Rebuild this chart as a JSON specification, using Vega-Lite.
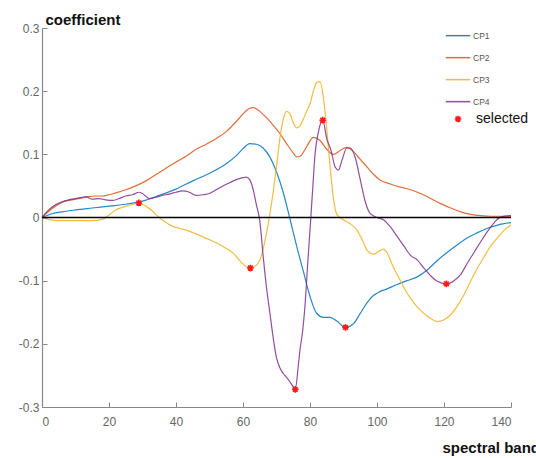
{
  "$schema": "https://vega.github.io/schema/vega-lite/v6.json",
  "width": 469,
  "height": 379,
  "autosize": "none",
  "padding": {"left": 42, "top": 28, "right": 25, "bottom": 51},
  "background": "white",
  "config": {
    "view": {"stroke": null},
    "font": "Liberation Sans",
    "axis": {"grid": false}
  },
  "datasets": {
    "curves": [
      {"band":0,"coef":0,"series":"CP1"},{"band":3,"coef":0.006,"series":"CP1"},{"band":6,"coef":0.009,"series":"CP1"},{"band":10,"coef":0.012,"series":"CP1"},{"band":15,"coef":0.015,"series":"CP1"},{"band":20,"coef":0.018,"series":"CP1"},{"band":25,"coef":0.021,"series":"CP1"},{"band":30,"coef":0.026,"series":"CP1"},{"band":35,"coef":0.035,"series":"CP1"},{"band":40,"coef":0.045,"series":"CP1"},{"band":45,"coef":0.058,"series":"CP1"},{"band":50,"coef":0.07,"series":"CP1"},{"band":55,"coef":0.085,"series":"CP1"},{"band":58,"coef":0.098,"series":"CP1"},{"band":60,"coef":0.109,"series":"CP1"},{"band":62,"coef":0.117,"series":"CP1"},{"band":64,"coef":0.116,"series":"CP1"},{"band":66,"coef":0.11,"series":"CP1"},{"band":68,"coef":0.096,"series":"CP1"},{"band":70,"coef":0.072,"series":"CP1"},{"band":72,"coef":0.04,"series":"CP1"},{"band":74,"coef":-0.002,"series":"CP1"},{"band":76,"coef":-0.045,"series":"CP1"},{"band":78,"coef":-0.085,"series":"CP1"},{"band":80,"coef":-0.125,"series":"CP1"},{"band":82,"coef":-0.152,"series":"CP1"},{"band":84,"coef":-0.158,"series":"CP1"},{"band":86,"coef":-0.158,"series":"CP1"},{"band":88,"coef":-0.164,"series":"CP1"},{"band":90.6,"coef":-0.174,"series":"CP1"},{"band":93,"coef":-0.168,"series":"CP1"},{"band":95,"coef":-0.152,"series":"CP1"},{"band":97,"coef":-0.135,"series":"CP1"},{"band":99,"coef":-0.123,"series":"CP1"},{"band":101,"coef":-0.117,"series":"CP1"},{"band":103,"coef":-0.113,"series":"CP1"},{"band":106,"coef":-0.106,"series":"CP1"},{"band":109,"coef":-0.1,"series":"CP1"},{"band":112,"coef":-0.094,"series":"CP1"},{"band":115,"coef":-0.083,"series":"CP1"},{"band":118,"coef":-0.068,"series":"CP1"},{"band":121,"coef":-0.055,"series":"CP1"},{"band":124,"coef":-0.043,"series":"CP1"},{"band":127,"coef":-0.032,"series":"CP1"},{"band":130,"coef":-0.024,"series":"CP1"},{"band":133,"coef":-0.017,"series":"CP1"},{"band":136,"coef":-0.012,"series":"CP1"},{"band":140,"coef":-0.008,"series":"CP1"},

      {"band":0,"coef":0,"series":"CP2"},{"band":2,"coef":0.01,"series":"CP2"},{"band":4,"coef":0.018,"series":"CP2"},{"band":6,"coef":0.024,"series":"CP2"},{"band":8,"coef":0.027,"series":"CP2"},{"band":10,"coef":0.029,"series":"CP2"},{"band":12,"coef":0.031,"series":"CP2"},{"band":14,"coef":0.033,"series":"CP2"},{"band":16,"coef":0.034,"series":"CP2"},{"band":18,"coef":0.034,"series":"CP2"},{"band":20,"coef":0.036,"series":"CP2"},{"band":22,"coef":0.039,"series":"CP2"},{"band":25,"coef":0.044,"series":"CP2"},{"band":28,"coef":0.05,"series":"CP2"},{"band":31,"coef":0.058,"series":"CP2"},{"band":34,"coef":0.068,"series":"CP2"},{"band":37,"coef":0.078,"series":"CP2"},{"band":40,"coef":0.088,"series":"CP2"},{"band":43,"coef":0.097,"series":"CP2"},{"band":46,"coef":0.108,"series":"CP2"},{"band":49,"coef":0.116,"series":"CP2"},{"band":52,"coef":0.125,"series":"CP2"},{"band":55,"coef":0.136,"series":"CP2"},{"band":58,"coef":0.152,"series":"CP2"},{"band":60,"coef":0.164,"series":"CP2"},{"band":62,"coef":0.173,"series":"CP2"},{"band":63,"coef":0.174,"series":"CP2"},{"band":65,"coef":0.168,"series":"CP2"},{"band":67,"coef":0.158,"series":"CP2"},{"band":69,"coef":0.146,"series":"CP2"},{"band":71,"coef":0.133,"series":"CP2"},{"band":73,"coef":0.117,"series":"CP2"},{"band":75,"coef":0.102,"series":"CP2"},{"band":76,"coef":0.096,"series":"CP2"},{"band":77,"coef":0.097,"series":"CP2"},{"band":79,"coef":0.112,"series":"CP2"},{"band":81,"coef":0.127,"series":"CP2"},{"band":83,"coef":0.122,"series":"CP2"},{"band":85,"coef":0.108,"series":"CP2"},{"band":87,"coef":0.1,"series":"CP2"},{"band":89,"coef":0.106,"series":"CP2"},{"band":91,"coef":0.111,"series":"CP2"},{"band":93,"coef":0.104,"series":"CP2"},{"band":95,"coef":0.092,"series":"CP2"},{"band":97,"coef":0.08,"series":"CP2"},{"band":99,"coef":0.068,"series":"CP2"},{"band":101,"coef":0.059,"series":"CP2"},{"band":104,"coef":0.053,"series":"CP2"},{"band":107,"coef":0.048,"series":"CP2"},{"band":110,"coef":0.044,"series":"CP2"},{"band":113,"coef":0.038,"series":"CP2"},{"band":116,"coef":0.03,"series":"CP2"},{"band":119,"coef":0.022,"series":"CP2"},{"band":122,"coef":0.015,"series":"CP2"},{"band":125,"coef":0.009,"series":"CP2"},{"band":128,"coef":0.005,"series":"CP2"},{"band":131,"coef":0.003,"series":"CP2"},{"band":134,"coef":0.002,"series":"CP2"},{"band":137,"coef":0.002,"series":"CP2"},{"band":140,"coef":0.002,"series":"CP2"},

      {"band":0,"coef":0,"series":"CP3"},{"band":2,"coef":-0.003,"series":"CP3"},{"band":5,"coef":-0.005,"series":"CP3"},{"band":10,"coef":-0.005,"series":"CP3"},{"band":15,"coef":-0.005,"series":"CP3"},{"band":18,"coef":-0.003,"series":"CP3"},{"band":20,"coef":0.004,"series":"CP3"},{"band":22,"coef":0.012,"series":"CP3"},{"band":24,"coef":0.016,"series":"CP3"},{"band":26,"coef":0.019,"series":"CP3"},{"band":28.9,"coef":0.023,"series":"CP3"},{"band":31,"coef":0.018,"series":"CP3"},{"band":33,"coef":0.01,"series":"CP3"},{"band":35,"coef":0.0,"series":"CP3"},{"band":37,"coef":-0.008,"series":"CP3"},{"band":39,"coef":-0.014,"series":"CP3"},{"band":41,"coef":-0.017,"series":"CP3"},{"band":43,"coef":-0.02,"series":"CP3"},{"band":46,"coef":-0.026,"series":"CP3"},{"band":49,"coef":-0.033,"series":"CP3"},{"band":52,"coef":-0.04,"series":"CP3"},{"band":55,"coef":-0.049,"series":"CP3"},{"band":57,"coef":-0.056,"series":"CP3"},{"band":59,"coef":-0.068,"series":"CP3"},{"band":61,"coef":-0.078,"series":"CP3"},{"band":62.2,"coef":-0.08,"series":"CP3"},{"band":63,"coef":-0.079,"series":"CP3"},{"band":65,"coef":-0.068,"series":"CP3"},{"band":66,"coef":-0.05,"series":"CP3"},{"band":67,"coef":-0.025,"series":"CP3"},{"band":68,"coef":0.005,"series":"CP3"},{"band":69,"coef":0.04,"series":"CP3"},{"band":70,"coef":0.08,"series":"CP3"},{"band":71,"coef":0.125,"series":"CP3"},{"band":72,"coef":0.155,"series":"CP3"},{"band":73,"coef":0.168,"series":"CP3"},{"band":74,"coef":0.164,"series":"CP3"},{"band":75,"coef":0.15,"series":"CP3"},{"band":76,"coef":0.142,"series":"CP3"},{"band":77,"coef":0.145,"series":"CP3"},{"band":78,"coef":0.156,"series":"CP3"},{"band":79,"coef":0.168,"series":"CP3"},{"band":80,"coef":0.18,"series":"CP3"},{"band":81,"coef":0.2,"series":"CP3"},{"band":82,"coef":0.214,"series":"CP3"},{"band":83,"coef":0.215,"series":"CP3"},{"band":84,"coef":0.19,"series":"CP3"},{"band":85,"coef":0.14,"series":"CP3"},{"band":86,"coef":0.08,"series":"CP3"},{"band":87,"coef":0.03,"series":"CP3"},{"band":88,"coef":0.005,"series":"CP3"},{"band":90,"coef":-0.004,"series":"CP3"},{"band":92,"coef":-0.01,"series":"CP3"},{"band":94,"coef":-0.02,"series":"CP3"},{"band":96,"coef":-0.04,"series":"CP3"},{"band":97,"coef":-0.052,"series":"CP3"},{"band":99,"coef":-0.058,"series":"CP3"},{"band":101,"coef":-0.052,"series":"CP3"},{"band":102,"coef":-0.05,"series":"CP3"},{"band":103,"coef":-0.056,"series":"CP3"},{"band":105,"coef":-0.08,"series":"CP3"},{"band":107,"coef":-0.1,"series":"CP3"},{"band":109,"coef":-0.12,"series":"CP3"},{"band":111,"coef":-0.135,"series":"CP3"},{"band":113,"coef":-0.147,"series":"CP3"},{"band":115,"coef":-0.156,"series":"CP3"},{"band":117,"coef":-0.163,"series":"CP3"},{"band":118,"coef":-0.165,"series":"CP3"},{"band":120,"coef":-0.162,"series":"CP3"},{"band":122,"coef":-0.154,"series":"CP3"},{"band":124,"coef":-0.14,"series":"CP3"},{"band":126,"coef":-0.122,"series":"CP3"},{"band":128,"coef":-0.1,"series":"CP3"},{"band":130,"coef":-0.08,"series":"CP3"},{"band":132,"coef":-0.062,"series":"CP3"},{"band":134,"coef":-0.045,"series":"CP3"},{"band":136,"coef":-0.032,"series":"CP3"},{"band":138,"coef":-0.02,"series":"CP3"},{"band":140,"coef":-0.012,"series":"CP3"},

      {"band":0,"coef":0,"series":"CP4"},{"band":2,"coef":0.012,"series":"CP4"},{"band":4,"coef":0.02,"series":"CP4"},{"band":6,"coef":0.025,"series":"CP4"},{"band":8,"coef":0.028,"series":"CP4"},{"band":10,"coef":0.03,"series":"CP4"},{"band":12,"coef":0.032,"series":"CP4"},{"band":13,"coef":0.033,"series":"CP4"},{"band":15,"coef":0.029,"series":"CP4"},{"band":17,"coef":0.03,"series":"CP4"},{"band":19,"coef":0.028,"series":"CP4"},{"band":21,"coef":0.027,"series":"CP4"},{"band":23,"coef":0.03,"series":"CP4"},{"band":25,"coef":0.034,"series":"CP4"},{"band":27,"coef":0.036,"series":"CP4"},{"band":29,"coef":0.04,"series":"CP4"},{"band":30,"coef":0.038,"series":"CP4"},{"band":32,"coef":0.03,"series":"CP4"},{"band":34,"coef":0.032,"series":"CP4"},{"band":36,"coef":0.035,"series":"CP4"},{"band":38,"coef":0.037,"series":"CP4"},{"band":40,"coef":0.04,"series":"CP4"},{"band":42,"coef":0.042,"series":"CP4"},{"band":44,"coef":0.04,"series":"CP4"},{"band":46,"coef":0.035,"series":"CP4"},{"band":48,"coef":0.036,"series":"CP4"},{"band":50,"coef":0.038,"series":"CP4"},{"band":52,"coef":0.044,"series":"CP4"},{"band":54,"coef":0.05,"series":"CP4"},{"band":56,"coef":0.055,"series":"CP4"},{"band":58,"coef":0.06,"series":"CP4"},{"band":60,"coef":0.063,"series":"CP4"},{"band":61,"coef":0.064,"series":"CP4"},{"band":62,"coef":0.06,"series":"CP4"},{"band":63,"coef":0.045,"series":"CP4"},{"band":64,"coef":0.02,"series":"CP4"},{"band":65,"coef":-0.005,"series":"CP4"},{"band":66,"coef":-0.06,"series":"CP4"},{"band":67,"coef":-0.11,"series":"CP4"},{"band":68,"coef":-0.15,"series":"CP4"},{"band":69,"coef":-0.19,"series":"CP4"},{"band":70,"coef":-0.222,"series":"CP4"},{"band":71,"coef":-0.238,"series":"CP4"},{"band":72,"coef":-0.247,"series":"CP4"},{"band":73,"coef":-0.253,"series":"CP4"},{"band":74,"coef":-0.26,"series":"CP4"},{"band":75,"coef":-0.268,"series":"CP4"},{"band":75.6,"coef":-0.272,"series":"CP4"},{"band":76.5,"coef":-0.235,"series":"CP4"},{"band":77,"coef":-0.21,"series":"CP4"},{"band":77.8,"coef":-0.18,"series":"CP4"},{"band":78.5,"coef":-0.14,"series":"CP4"},{"band":79.3,"coef":-0.074,"series":"CP4"},{"band":80,"coef":-0.02,"series":"CP4"},{"band":80.8,"coef":0.045,"series":"CP4"},{"band":81.5,"coef":0.1,"series":"CP4"},{"band":82.5,"coef":0.135,"series":"CP4"},{"band":83.8,"coef":0.154,"series":"CP4"},{"band":85,"coef":0.125,"series":"CP4"},{"band":86.3,"coef":0.106,"series":"CP4"},{"band":87.5,"coef":0.08,"series":"CP4"},{"band":88.5,"coef":0.075,"series":"CP4"},{"band":89.5,"coef":0.09,"series":"CP4"},{"band":91,"coef":0.11,"series":"CP4"},{"band":92,"coef":0.11,"series":"CP4"},{"band":93.5,"coef":0.095,"series":"CP4"},{"band":95,"coef":0.06,"series":"CP4"},{"band":96.5,"coef":0.025,"series":"CP4"},{"band":98,"coef":0.006,"series":"CP4"},{"band":100,"coef":0.0,"series":"CP4"},{"band":102,"coef":-0.004,"series":"CP4"},{"band":104,"coef":-0.015,"series":"CP4"},{"band":106,"coef":-0.03,"series":"CP4"},{"band":108,"coef":-0.045,"series":"CP4"},{"band":110,"coef":-0.06,"series":"CP4"},{"band":112,"coef":-0.067,"series":"CP4"},{"band":114,"coef":-0.08,"series":"CP4"},{"band":116,"coef":-0.092,"series":"CP4"},{"band":118,"coef":-0.101,"series":"CP4"},{"band":120.7,"coef":-0.105,"series":"CP4"},{"band":123,"coef":-0.1,"series":"CP4"},{"band":125,"coef":-0.09,"series":"CP4"},{"band":127,"coef":-0.072,"series":"CP4"},{"band":129,"coef":-0.055,"series":"CP4"},{"band":131,"coef":-0.038,"series":"CP4"},{"band":133,"coef":-0.022,"series":"CP4"},{"band":135,"coef":-0.008,"series":"CP4"},{"band":137,"coef":0.001,"series":"CP4"},{"band":140,"coef":0.003,"series":"CP4"}
    ],
    "selected": [
      {"band":28.9,"coef":0.023,"label":"selected"},
      {"band":62.2,"coef":-0.08,"label":"selected"},
      {"band":75.6,"coef":-0.272,"label":"selected"},
      {"band":83.8,"coef":0.154,"label":"selected"},
      {"band":90.6,"coef":-0.174,"label":"selected"},
      {"band":120.7,"coef":-0.105,"label":"selected"}
    ],
    "zero": [{"coef": 0}]
  },
  "layer": [
    {
      "data": {"name": "curves"},
      "mark": {"type": "line", "strokeWidth": 1.2, "interpolate": "monotone", "opacity": 0.85},
      "encoding": {
        "x": {
          "field": "band", "type": "quantitative",
          "scale": {"domain": [0, 140], "nice": false, "zero": false},
          "axis": {
            "values": [0, 20, 40, 60, 80, 100, 120, 140],
            "title": "spectral band",
            "titleFont": "Liberation Sans", "titleFontSize": 15, "titleFontWeight": "bold", "titleColor": "#111",
            "titleAnchor": "start", "titleAlign": "left", "titleBaseline": "alphabetic",
            "titleX": 400, "titleY": 45,
            "tickSize": -5, "tickColor": "#888", "domainColor": "#888", "domainWidth": 1.2,
            "labelFontSize": 12, "labelColor": "#666", "labelPadding": 14
          }
        },
        "y": {
          "field": "coef", "type": "quantitative",
          "scale": {"domain": [-0.3, 0.3], "nice": false, "zero": false},
          "axis": {
            "values": [-0.3, -0.2, -0.1, 0, 0.1, 0.2, 0.3],
            "labelExpr": "datum.value == 0 ? '0' : replace(format(datum.value, '.1f'), '\u2212', '-')",
            "title": "coefficient",
            "titleFont": "Liberation Sans", "titleFontSize": 15, "titleFontWeight": "bold", "titleColor": "#111",
            "titleAngle": 0, "titleAlign": "left", "titleBaseline": "alphabetic",
            "titleX": 3, "titleY": -4,
            "tickSize": -5, "tickColor": "#888", "domainColor": "#888", "domainWidth": 1.2,
            "labelFontSize": 12, "labelColor": "#666", "labelPadding": 8
          }
        },
        "color": {
          "field": "series", "type": "nominal",
          "scale": {"domain": ["CP1", "CP2", "CP3", "CP4"], "range": ["#0072BD", "#D95319", "#EDB120", "#7E2F8E"]},
          "legend": {
            "title": null, "orient": "none", "legendX": 403, "legendY": -3,
            "symbolType": "stroke", "symbolSize": 600, "symbolStrokeWidth": 1.5,
            "clipHeight": 21.3, "rowPadding": 0, "padding": 0,
            "labelFontSize": 8.5, "labelColor": "#555", "labelOffset": 2
          }
        }
      }
    },
    {
      "data": {"name": "zero"},
      "mark": {"type": "rule", "color": "black", "strokeWidth": 1.5},
      "encoding": {"y": {"field": "coef", "type": "quantitative"}}
    },
    {
      "data": {"name": "selected"},
      "mark": {"type": "point", "filled": false, "color": "#ff1a1a", "strokeWidth": 1.6, "size": 45, "opacity": 1},
      "encoding": {
        "x": {"field": "band", "type": "quantitative"},
        "y": {"field": "coef", "type": "quantitative"},
        "shape": {
          "field": "label", "type": "nominal",
          "scale": {"range": ["M0,-1L0,1M-1,0L1,0M-0.7,-0.7L0.7,0.7M-0.7,0.7L0.7,-0.7"]},
          "legend": {
            "title": null, "orient": "none", "legendX": 409, "legendY": 84,
            "symbolType": "M0,-1L0,1M-1,0L1,0M-0.7,-0.7L0.7,0.7M-0.7,0.7L0.7,-0.7",
            "symbolSize": 45, "symbolStrokeColor": "#ff1a1a", "symbolStrokeWidth": 1.6, "symbolFillColor": "transparent",
            "clipHeight": 14, "padding": 0,
            "labelFontSize": 14, "labelColor": "#111", "labelOffset": 11
          }
        }
      }
    }
  ]
}
